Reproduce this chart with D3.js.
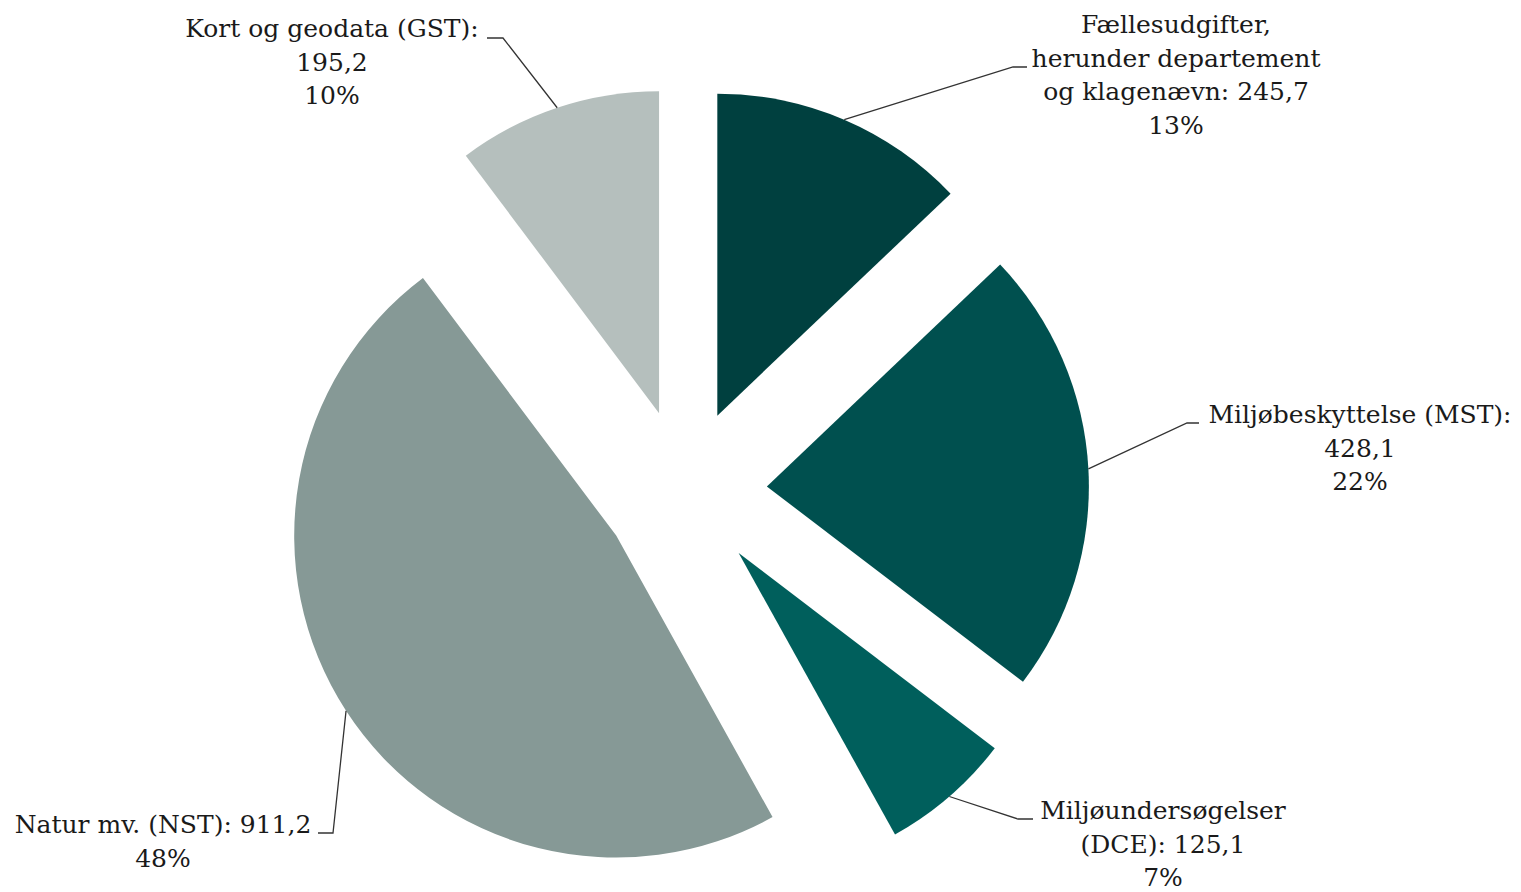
<!DOCTYPE html>
<html>
<head>
<meta charset="utf-8">
<script src="https://cdn.jsdelivr.net/npm/d3@7"></script>
<style>
  body { margin: 0; background: #fff; }
  text { font-family: "DejaVu Serif", "Liberation Serif", serif; fill: #1a1a1a; }
</style>
</head>
<body>
<div id="chart"></div>
<script>
// data, clockwise from top
let categories = ["Fællesudgifter", "MST", "DCE", "NST", "GST"];
let values = [245.7, 428.1, 125.1, 911.2, 195.2];
let nameLines = [
  ["Fællesudgifter,", "herunder departement", "og klagenævn:"],
  ["Miljøbeskyttelse (MST):"],
  ["Miljøundersøgelser", "(DCE):"],
  ["Natur mv. (NST):"],
  ["Kort og geodata (GST):"]
];
// value on same line as last name line?
let valueInline = [true, false, true, true, false];
let colors = ["#00403f", "#00504f", "#005f5c", "#869996", "#b5bfbd"];

let width = 1521, height = 892;
let cx = 685, cy = 491;
let radius = 322;
let explode = 82;
let lineHeight = 33.5;

// label layout: center x, first baseline, elbow point, end of horizontal tick
let labelPos = [
  {x: 1176, y: 33, elbow: [1013, 67], tick: [1027, 67]},
  {x: 1360, y: 423, elbow: [1187, 423], tick: [1199, 423]},
  {x: 1163, y: 819, elbow: [1018, 819], tick: [1033, 819]},
  {x: 163, y: 833, elbow: [333, 833], tick: [318, 833]},
  {x: 332, y: 37, elbow: [503, 38], tick: [487, 38]}
];

let locale = d3.formatLocale({decimal: ",", thousands: ".", grouping: [3], currency: ["", " kr"]});
let fmtVal = locale.format(".1f");
let total = d3.sum(values);
let fmtPct = v => Math.round(v / total * 100) + "%";

let svg = d3.select("#chart").append("svg")
  .attr("width", width)
  .attr("height", height);

let pie = d3.pie().sort(null).value(d => d)(values);
let arc = d3.arc().innerRadius(0).outerRadius(radius);

let slices = svg.append("g").attr("transform", "translate(" + cx + "," + cy + ")");

slices.selectAll("path")
  .data(pie)
  .enter()
  .append("path")
  .attr("d", arc)
  .attr("fill", (d, i) => colors[i])
  .attr("transform", function(d){
    let mid = (d.startAngle + d.endAngle) / 2;
    return "translate(" + (explode * Math.sin(mid)) + "," + (-explode * Math.cos(mid)) + ")";
  });

// leader lines
pie.forEach(function(d, i){
  let mid = (d.startAngle + d.endAngle) / 2;
  let r = radius + explode;
  let sx = cx + r * Math.sin(mid);
  let sy = cy - r * Math.cos(mid);
  let p = labelPos[i];
  svg.append("polyline")
    .attr("points", [[sx, sy], p.elbow, p.tick].map(q => q.join(",")).join(" "))
    .attr("fill", "none")
    .attr("stroke", "#333")
    .attr("stroke-width", 1.3);
});

// labels
pie.forEach(function(d, i){
  let lines = nameLines[i].slice();
  let v = fmtVal(values[i]);
  if(valueInline[i]){
    lines[lines.length - 1] = lines[lines.length - 1] + " " + v;
  }else{
    lines.push(v);
  }
  lines.push(fmtPct(values[i]));
  let p = labelPos[i];
  let t = svg.append("text")
    .attr("text-anchor", "middle")
    .attr("font-size", 25);
  lines.forEach(function(l, j){
    t.append("tspan")
      .attr("x", p.x)
      .attr("y", p.y + j * lineHeight)
      .text(l);
  });
});
</script>
</body>
</html>
